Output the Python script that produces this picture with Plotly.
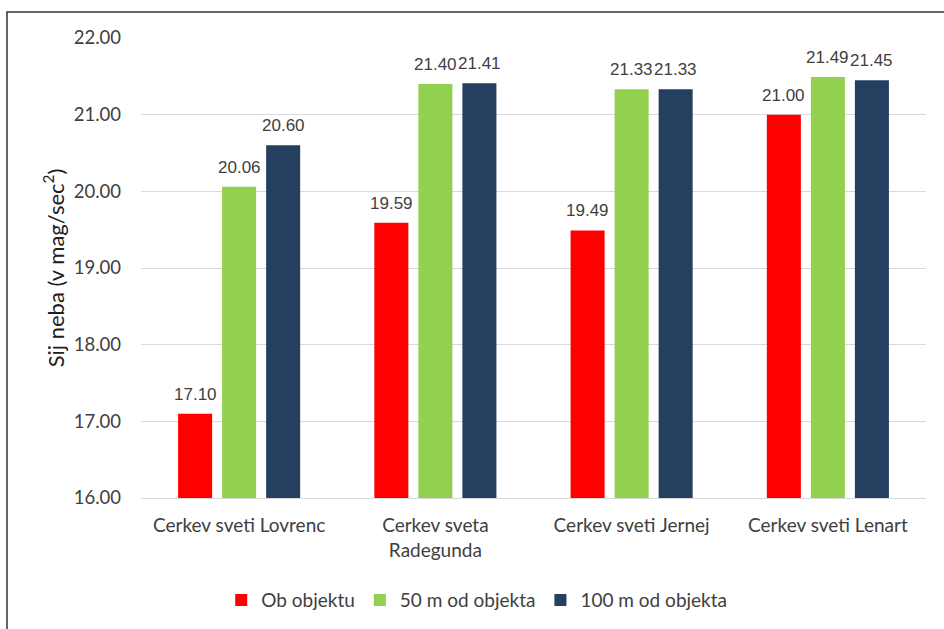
import plotly.graph_objects as go

# Sky brightness measured at four churches, at three distances from each object
categories = ["Cerkev sveti Lovrenc", "Cerkev sveta<br>Radegunda", "Cerkev sveti Jernej", "Cerkev sveti Lenart"]
series_names = ["Ob objektu", "50 m od objekta", "100 m od objekta"]
ob_objektu = [17.10, 19.59, 19.49, 21.00]
m50_od_objekta = [20.06, 21.40, 21.33, 21.49]
m100_od_objekta = [20.60, 21.41, 21.33, 21.45]
y_ticks = [16, 17, 18, 19, 20, 21, 22]

series_values = [ob_objektu, m50_od_objekta, m100_od_objekta]
colors = ["#FF0000", "#92D050", "#243F60"]

AXIS_FONT = "Lato, 'Open Sans', sans-serif"
LABEL_FONT = "'Liberation Sans', Arial, sans-serif"

fig = go.Figure()
for name, vals, col in zip(series_names, series_values, colors):
    fig.add_trace(go.Bar(
        x=categories, y=vals, name=name,
        marker=dict(color=col, line=dict(width=0)),
    ))

# value labels above each bar
offsets = [-44, 0, 44]
for vals, dx in zip(series_values, offsets):
    for cat, v in zip(categories, vals):
        fig.add_annotation(
            x=cat, y=v, text=f"{v:.2f}", showarrow=False,
            xshift=dx, yanchor="bottom", yshift=8,
            font=dict(family=LABEL_FONT, size=17, color="#404040"),
        )

fig.update_layout(
    width=944, height=629,
    margin=dict(l=141, r=18, t=38, b=131),
    paper_bgcolor="white", plot_bgcolor="white",
    barmode="group", bargap=0.327, bargroupgap=0.227,
    showlegend=True,
    legend=dict(
        orientation="h", xref="container", yref="container",
        x=0.505, xanchor="center", y=0.046, yanchor="middle",
        font=dict(family=AXIS_FONT, size=19, color="#404040"),
        itemwidth=30, tracegroupgap=0,
    ),
    font=dict(family=AXIS_FONT, color="#404040"),
)

fig.update_yaxes(
    range=[16, 22], tickvals=y_ticks, tickformat=".2f",
    showgrid=True, gridcolor="#D9D9D9", gridwidth=1,
    zeroline=False, showline=False,
    tickfont=dict(family=AXIS_FONT, size=18.5, color="#404040"),
    ticks="", ticklabelstandoff=19,
    title=dict(text="Sij neba (v mag/sec<sup>2</sup>)",
               font=dict(family=AXIS_FONT, size=22, color="#202020"),
               standoff=3),
)
fig.update_xaxes(
    showline=True, linecolor="#D9D9D9", linewidth=1,
    tickfont=dict(family=AXIS_FONT, size=19, color="#404040"),
    ticks="", ticklabelstandoff=10,
)

# chart frame (left and top edges visible)
fig.add_shape(
    type="rect", xref="paper", yref="paper",
    x0=(7 - 141) / 785, x1=1.2, y0=-1.0, y1=1 + (38 - 12) / 460,
    line=dict(color="#333333", width=1.5), fillcolor="rgba(0,0,0,0)", layer="above",
)

fig.write_html("out.html")
